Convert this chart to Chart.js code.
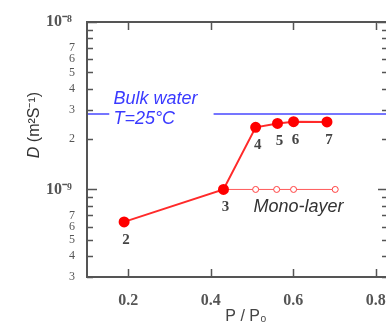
<!DOCTYPE html>
<html>
<head>
<meta charset="utf-8">
<script src="https://cdn.jsdelivr.net/npm/chart.js@4/dist/chart.umd.min.js"></script>
<style>
  html, body { margin: 0; padding: 0; background: #fff; overflow: hidden; }
  #wrap { width: 400px; height: 325px; }
</style>
</head>
<body>
<div id="wrap"><canvas id="chart" width="400" height="325"></canvas></div>
<script>
// measured points (P/P0 vs D)
var pressure = [0.19, 0.431, 0.509, 0.562, 0.601, 0.682];
var diffusion = [6.4e-10, 1.0e-9, 2.35e-9, 2.48e-9, 2.54e-9, 2.53e-9];
var pointNames = ['2', '3', '4', '5', '6', '7'];

// mono-layer reference line
var monoX = [0.431, 0.509, 0.56, 0.601, 0.702];
var monoD = [1.0e-9, 1.0e-9, 1.0e-9, 1.0e-9, 1.0e-9];

// bulk water, T = 25 C (line broken where the label sits)
var bulkD = 2.82e-9;
var bulkX = [0.1, 0.154, null, 0.407, 0.83];

var xTicks = [0.2, 0.4, 0.6, 0.8];
var yTicks = [3e-10, 4e-10, 5e-10, 6e-10, 7e-10, 8e-10, 9e-10, 1e-9,
              2e-9, 3e-9, 4e-9, 5e-9, 6e-9, 7e-9, 8e-9, 9e-9, 1e-8];

function mantissa(v) {
  var e = Math.floor(Math.log10(v) + 1e-9);
  return Math.round(v / Math.pow(10, e));
}

// frame + inward ticks
var framePlugin = {
  id: 'frame',
  afterDraw: function(chart) {
    var ctx = chart.ctx, a = chart.chartArea;
    var xs = chart.scales.x, ys = chart.scales.y;
    ctx.save();
    ctx.strokeStyle = '#555';
    ctx.lineWidth = 2;
    ctx.strokeRect(a.left, a.top, a.right - a.left, a.bottom - a.top);
    ctx.lineWidth = 1.5;
    ctx.beginPath();
    xTicks.forEach(function(v) {
      var px = Math.round(xs.getPixelForValue(v)) + 0.5;
      ctx.moveTo(px, a.bottom); ctx.lineTo(px, a.bottom - 8);
      ctx.moveTo(px, a.top); ctx.lineTo(px, a.top + 8);
    });
    yTicks.forEach(function(v) {
      var py = Math.round(ys.getPixelForValue(v)) + 0.5;
      var len = mantissa(v) === 1 ? 10 : 6;
      ctx.moveTo(a.left, py); ctx.lineTo(a.left + len, py);
      ctx.moveTo(a.right, py); ctx.lineTo(a.right - len, py);
    });
    ctx.stroke();
    ctx.restore();
  }
};

// text labels
var textPlugin = {
  id: 'texts',
  afterDatasetsDraw: function(chart) {
    var ctx = chart.ctx;
    var xs = chart.scales.x, ys = chart.scales.y;
    ctx.save();
    ctx.textAlign = 'center';
    ctx.textBaseline = 'middle';
    ctx.fillStyle = '#444';
    ctx.font = 'bold 15px "Liberation Serif", serif';
    pressure.forEach(function(p, i) {
      ctx.fillText(pointNames[i], xs.getPixelForValue(p) + 2, ys.getPixelForValue(diffusion[i]) + 18);
    });

    var by = ys.getPixelForValue(bulkD);
    ctx.textAlign = 'left';
    ctx.fillStyle = '#3a3aff';
    ctx.font = 'italic 18px "Liberation Sans", Arial, sans-serif';
    ctx.fillText('Bulk water', xs.getPixelForValue(0.164), by - 15);
    ctx.fillText('T=25°C', xs.getPixelForValue(0.164), by + 5);

    ctx.fillStyle = '#333';
    ctx.fillText('Mono-layer', xs.getPixelForValue(0.504), ys.getPixelForValue(monoD[0]) + 18);

    // x axis title
    ctx.fillStyle = '#444';
    ctx.textAlign = 'center';
    ctx.font = '16px "Liberation Sans", Arial, sans-serif';
    ctx.fillText('P / P\u2080', 246, 317);

    // y axis title
    ctx.translate(35, 125);
    ctx.rotate(-Math.PI / 2);
    ctx.fillStyle = '#333';
    ctx.textAlign = 'left';
    var t1 = 'D', t2 = ' (m²S⁻¹)';
    ctx.font = '16px "Liberation Sans", Arial, sans-serif';
    var w2 = ctx.measureText(t2).width;
    ctx.font = 'italic 16px "Liberation Sans", Arial, sans-serif';
    var w1 = ctx.measureText(t1).width;
    var x0 = -(w1 + w2) / 2;
    ctx.fillText(t1, x0, 0);
    ctx.font = '16px "Liberation Sans", Arial, sans-serif';
    ctx.fillText(t2, x0 + w1, 0);
    ctx.restore();
  }
};

var ctx = document.getElementById('chart');

var chartData = {
  datasets: [{
    label: 'Bulk water',
    data: bulkX.map(function(x) { return x === null ? { x: 0.3, y: null } : { x: x, y: bulkD }; }),
    borderColor: '#4848ff',
    borderWidth: 1.6,
    pointRadius: 0,
    spanGaps: false,
    order: 3
  }, {
    label: 'Mono-layer',
    data: monoX.map(function(x, i) { return { x: x, y: monoD[i] }; }),
    borderColor: '#ff5a5a',
    borderWidth: 1,
    pointRadius: [0, 3, 3, 3, 3],
    pointBackgroundColor: '#fff',
    pointBorderColor: '#ff4040',
    pointBorderWidth: 1,
    order: 2
  }, {
    label: 'D',
    data: pressure.map(function(x, i) { return { x: x, y: diffusion[i] }; }),
    borderColor: '#ff2a2a',
    borderWidth: 2,
    pointRadius: 4.5,
    pointBackgroundColor: '#ff0000',
    pointBorderColor: '#ff0000',
    order: 1
  }]
};

var chartOptions = {
  responsive: false,
  animation: false,
  layout: { padding: { top: 22, right: 12, left: 0, bottom: 0 } },
  plugins: { legend: { display: false }, tooltip: { enabled: false } },
  scales: {
    x: {
      type: 'linear',
      min: 0.1,
      max: 0.83,
      grid: { display: false },
      border: { display: false },
      afterBuildTicks: function(scale) {
        scale.ticks = xTicks.map(function(v) { return { value: v }; });
      },
      afterFit: function(scale) { scale.height = 48; },
      ticks: {
        padding: 6,
        color: '#555',
        font: { family: '"Liberation Serif", serif', size: 16, weight: 'bold' },
        callback: function(v) { return v.toFixed(1); }
      }
    },
    y: {
      type: 'logarithmic',
      min: 3e-10,
      max: 1e-8,
      grid: { display: false },
      border: { display: false },
      afterBuildTicks: function(scale) {
        scale.ticks = yTicks.map(function(v) { return { value: v }; });
      },
      afterFit: function(scale) { scale.width = 87; },
      ticks: {
        padding: 4,
        color: '#555',
        autoSkip: false,
        font: function(c) {
          var big = c.tick && mantissa(c.tick.value) === 1;
          return { family: '"Liberation Serif", serif', size: big ? 16 : 12, weight: big ? 'bold' : 'normal' };
        },
        callback: function(v) {
          var m = mantissa(v);
          if (m === 1) return '10' + (Math.round(Math.log10(v)) === -8 ? '⁻⁸' : '⁻⁹') + '\u2009';
          return (m >= 2 && m <= 7) ? String(m) : '';
        }
      }
    }
  }
};

var config = {
  type: 'line',
  data: chartData,
  options: chartOptions,
  plugins: [framePlugin, textPlugin]
};

var diffChart = new Chart(ctx, config);
</script>
</body>
</html>
